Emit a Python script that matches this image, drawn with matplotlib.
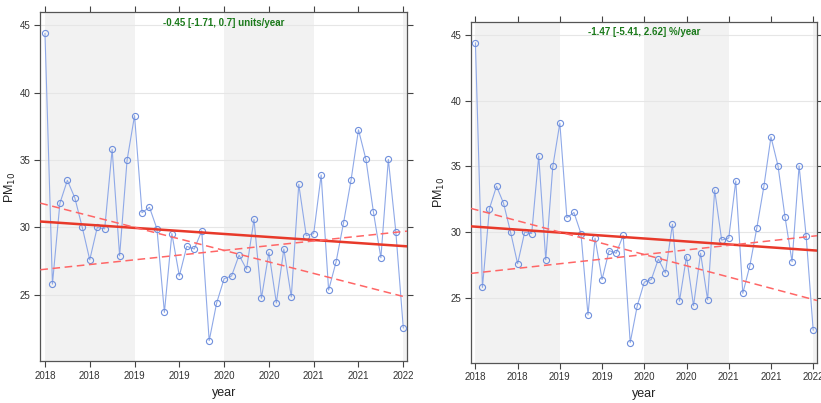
import numpy as np
import matplotlib
matplotlib.use("Agg")
import matplotlib.pyplot as plt

# monthly PM10 means, Jan 2018 .. Jan 2022
pm10 = [44.4, 25.8, 31.8, 33.5, 32.2, 30.0, 27.6, 30.0, 29.9, 35.8, 27.9, 35.0,
        38.3, 31.1, 31.5, 29.9, 23.7, 29.55, 26.4, 28.6, 28.4, 29.75, 21.6, 24.4,
        26.2, 26.4, 27.95, 26.9, 30.6, 24.75, 28.15, 24.4, 28.4, 24.85, 33.2, 29.4,
        29.55, 33.9, 25.35, 27.45, 30.35, 33.5, 37.25, 35.05, 31.15, 27.75, 35.05, 29.7,
        22.55]
start_year = 2018

# Theil-Sen slope and its interval (per year), with pivot values at 2020
slope, slope_lo, slope_hi = -0.45, -1.71, 0.70
mid_year = 2020
mid_fit, mid_ci = 29.52, 28.3

titles = ["-0.45 [-1.71, 0.7] units/year", "-1.47 [-5.41, 2.62] %/year"]
tick_pos = [2018, 2018.5, 2019, 2019.5, 2020, 2020.5, 2021, 2021.5, 2022]
tick_lab = ["2018", "2018", "2019", "2019", "2020", "2020", "2021", "2021", "2022"]
shade_years = [2018, 2020, 2022]

plt.rcParams["font.family"] = ["Liberation Sans Narrow", "Liberation Sans", "DejaVu Sans"]

years = start_year + np.arange(len(pm10)) / 12.0
xlim = (2017.948, 2022.045)
ylim = (20.07, 45.97)

fig = plt.figure(figsize=(8.21, 4.03), dpi=100)
boxes = [[0.0491, 0.1035, 0.4470, 0.8660], [0.5737, 0.1000, 0.4214, 0.8447]]
ylab_x = [-0.061, -0.069]

for box, title, lx in zip(boxes, titles, ylab_x):
    ax = fig.add_axes(box)
    for y0 in shade_years:
        ax.axvspan(y0, y0 + 1, color="#f2f2f2", lw=0, zorder=0)
    for gy in [25, 30, 35, 40, 45]:
        ax.axhline(gy, color="#e6e6e6", lw=0.8, zorder=1)

    ax.plot(years, pm10, color="#8fa9e8", lw=0.8, marker="o", ms=4.4,
            mfc="none", mec="#6f8fdc", mew=0.8, zorder=3)

    xx = np.array(xlim)
    ax.plot(xx, mid_fit + slope * (xx - mid_year), color="#e8392a", lw=1.8, zorder=4)
    ax.plot(xx, mid_ci + slope_lo * (xx - mid_year), color="#ff6666", lw=1.1,
            ls=(0, (5, 3)), zorder=4)
    ax.plot(xx, mid_ci + slope_hi * (xx - mid_year), color="#ff6666", lw=1.1,
            ls=(0, (5, 3)), zorder=4)

    ax.set_xlim(xlim)
    ax.set_ylim(ylim)
    ax.set_xticks(tick_pos)
    ax.set_xticklabels(tick_lab)
    ax.set_yticks([25, 30, 35, 40, 45])
    ax.tick_params(direction="out", length=4, width=0.8, color="#444444",
                   labelsize=7, labelcolor="#333333", top=True, right=True, pad=3)
    for s in ax.spines.values():
        s.set_color("#555555")
        s.set_linewidth(0.9)

    ax.text(0.5, 0.985, title, transform=ax.transAxes, ha="center", va="top",
            color="#1b7a1b", fontsize=7, fontweight="bold", zorder=5)
    ax.set_xlabel("year", fontsize=9, color="#222222", labelpad=4)
    ax.set_ylabel("PM$_{10}$", fontsize=9, color="#222222")
    ax.yaxis.set_label_coords(lx, 0.5)

fig.savefig("out.png", dpi=100)
